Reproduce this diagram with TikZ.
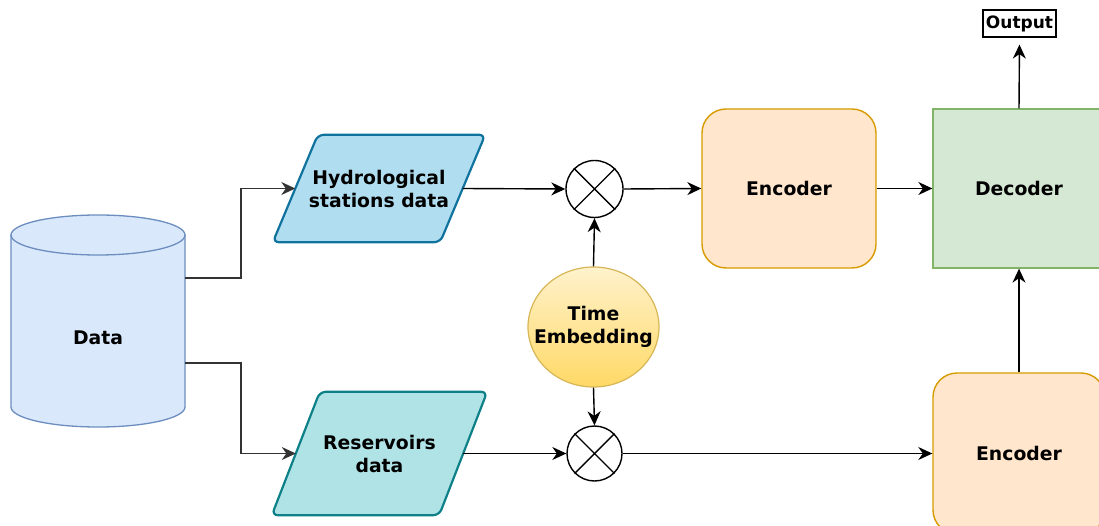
\documentclass[tikz,border=0pt]{standalone}
\usepackage{fontspec}
\setmainfont{DejaVu Sans}
\usetikzlibrary{shapes.geometric,arrows.meta,calc,backgrounds}
\definecolor{cylfill}{HTML}{DAE8FC}
\definecolor{cyldraw}{HTML}{6C8EBF}
\definecolor{hydfill}{HTML}{B1DDF0}
\definecolor{hyddraw}{HTML}{10739E}
\definecolor{resfill}{HTML}{B0E3E6}
\definecolor{resdraw}{HTML}{0E8088}
\definecolor{encfill}{HTML}{FFE6CC}
\definecolor{encdraw}{HTML}{D79B00}
\definecolor{decfill}{HTML}{D5E8D4}
\definecolor{decdraw}{HTML}{82B366}
\definecolor{tetop}{HTML}{FFF2CC}
\definecolor{tebot}{HTML}{FFD966}
\definecolor{tedraw}{HTML}{D6B656}
\tikzset{
  lbl/.style={align=center, inner sep=0pt},
  parabox/.style={lbl, minimum width=167pt},
  parashape/.style={rounded corners=6pt, line width=2.2pt},
  mult/.style={circle, draw, line width=1.4pt, inner sep=0pt, fill=white},
  encbox/.style={rectangle, rounded corners=24pt, fill=encfill, draw=encdraw, line width=1.4pt, minimum height=159pt},
  conn/.style={line width=1.4pt, -{Stealth[length=14pt,width=13pt,inset=4.5pt]}},
}
\begin{document}
\begin{tikzpicture}[x=1pt,y=1pt, font=\fontsize{18.8}{23}\selectfont\bfseries]
\useasboundingbox (0,0) rectangle (1099,-526);
\clip (0,0) rectangle (1099,-526);

% Data cylinder
\path[fill=cylfill, draw=cyldraw, line width=1.3pt] (11,-235) -- (11,-407)
  arc[start angle=180, end angle=360, x radius=87, y radius=20] -- (185,-235)
  arc[start angle=0, end angle=180, x radius=87, y radius=20] -- cycle;
\draw[draw=cyldraw, line width=1.3pt] (11,-235) arc[start angle=180, end angle=360, x radius=87, y radius=20];
\node[lbl] (data) at (98,-338) {Data};
\coordinate (d1) at (185,-278);
\coordinate (d2) at (185,-363);

% parallelograms
\node[parabox, minimum height=107pt] (hyd) at (379,-188.5) {Hydrological\\stations data};
\node[parabox, minimum height=123pt] (res) at (379.5,-453.5) {Reservoirs\\data};
\begin{scope}[on background layer]
\draw[parashape, fill=hydfill, draw=hyddraw]
  ($(hyd.north east)+(22.5,0)$) -- ($(hyd.north west)+(22.5,0)$) --
  ($(hyd.south west)+(-22.5,0)$) -- ($(hyd.south east)+(-22.5,0)$) -- cycle;
\draw[parashape, fill=resfill, draw=resdraw]
  ($(res.north east)+(24,0)$) -- ($(res.north west)+(24,0)$) --
  ($(res.south west)+(-24,0)$) -- ($(res.south east)+(-24,0)$) -- cycle;
\end{scope}

% multiply nodes
\node[mult, minimum size=57pt] (m1) at (594.5,-189) {};
\draw[line width=1.4pt] (m1.north east) -- (m1.south west) (m1.north west) -- (m1.south east);
\node[mult, minimum size=55pt] (m2) at (594.5,-453.5) {};
\draw[line width=1.4pt] (m2.north east) -- (m2.south west) (m2.north west) -- (m2.south east);

% time embedding
\node[ellipse, minimum width=131pt, minimum height=120pt, draw=tedraw, line width=1.2pt,
  top color=tetop, bottom color=tebot, inner sep=0pt] (te) at (593.5,-327) {};
\node[lbl] (tetext) at (te.center) {Time\\Embedding};

% encoders / decoder
\node[encbox, minimum width=174pt] (enc1) at (789,-188.5) {Encoder};
\node[rectangle, fill=decfill, draw=decdraw, line width=1.3pt, minimum width=172pt, minimum height=159pt] (dec) at (1019,-188.5) {Decoder};
\node[encbox, minimum width=172pt, minimum height=161pt] (enc2) at (1019,-453.5) {Encoder};

% output
\node[draw, line width=1.2pt, minimum width=73pt, minimum height=27pt, inner sep=0pt,
  font=\fontsize{17}{20}\selectfont\bfseries] (out) at (1019.5,-23.5) {Output};

% connectors
\draw[conn, black!80] (d1) -- ++(56,0) |- (hyd.west);
\draw[conn, black!80] (d2) -- ++(56,0) |- (res.west);
\draw[conn] (hyd.east) -- (m1.west);
\draw[conn] (res.east) -- (m2.west);
\draw[conn] (te.north) -- (m1.south);
\draw[conn] (te.south) -- (m2.north);
\draw[conn] (m1.east) -- (enc1.west);
\draw[conn] (enc1.east) -- (dec.west);
\draw[conn] (m2.east) -- (enc2.west);
\draw[conn] (enc2.north) -- (dec.south);
\draw[conn, shorten >=7pt] (dec.north) -- (out.south);
\end{tikzpicture}
\end{document}
